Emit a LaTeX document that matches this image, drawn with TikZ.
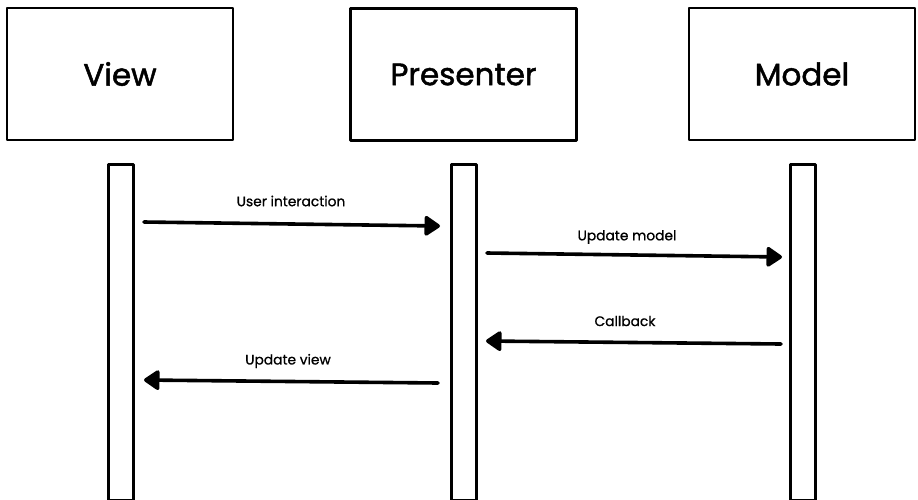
\documentclass[tikz,border=0pt]{standalone}
\usepackage{fontspec}
\setmainfont{Poppins}
\newfontfamily\headfont{Poppins}[FakeBold=1.6]
\newfontfamily\labelfont{Poppins}[FakeBold=0.9]
\usetikzlibrary{arrows.meta}
\begin{document}
\begin{tikzpicture}[x=1pt,y=-1pt,
  actor/.style={draw=black, line width=2.6pt, line join=round, fill=white,
    minimum width=226pt, minimum height=132pt, inner sep=0pt,
    font=\headfont\fontsize{31}{34}\selectfont},
  lifeline/.style={draw=black, line width=2.6pt, line join=round, fill=white,
    minimum width=25pt, minimum height=336pt, inner sep=0pt, anchor=north},
  msg/.style={draw=black, line width=3.6pt, line cap=round,
    -{Triangle[length=17pt,width=22pt,round]}},
  msglabel/.style={font=\labelfont\fontsize{13.8}{16}\selectfont, anchor=center}]
  \useasboundingbox (0,0) rectangle (918,499);

  % participant boxes
  \node[actor] (view) at (120,74) {View};
  \node[actor] (presenter) at (463.5,74.5) {Presenter};
  \node[actor] (model) at (802,74) {Model};

  % lifelines
  \node[lifeline] (vl) at (121,163) {};
  \node[lifeline] (pl) at (464,163) {};
  \node[lifeline] (ml) at (803,163) {};

  % message end points
  \coordinate (m1s) at (144,222);
  \coordinate (m1e) at (440,226);
  \coordinate (m2s) at (487,253);
  \coordinate (m2e) at (782,257);
  \coordinate (m3s) at (781,344);
  \coordinate (m3e) at (486,341);
  \coordinate (m4s) at (438,383);
  \coordinate (m4e) at (144,380);

  % messages
  \draw[msg] (m1s) -- (m1e);
  \draw[msg] (m2s) -- (m2e);
  \draw[msg] (m3s) -- (m3e);
  \draw[msg] (m4s) -- (m4e);

  \node[msglabel] (l1) at (291,201) {User interaction};
  \node[msglabel] (l2) at (627,237) {Update model};
  \node[msglabel] (l3) at (625,321) {Callback};
  \node[msglabel] (l4) at (288,361) {Update view};
\end{tikzpicture}
\end{document}
